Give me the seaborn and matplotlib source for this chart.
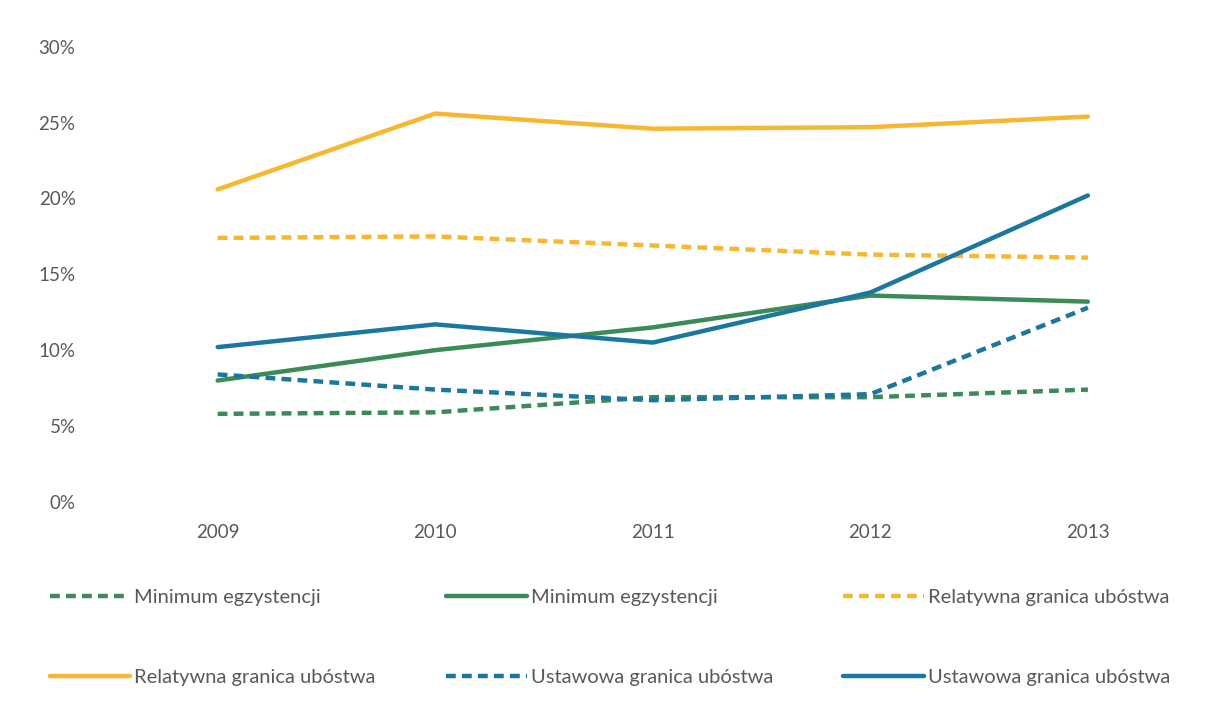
import pandas as pd
import seaborn as sns
import matplotlib.pyplot as plt
from matplotlib.ticker import PercentFormatter

# values (percent)
years = ['2009', '2010', '2011', '2012', '2013']
min_egz_a = [5.8, 5.9, 6.9, 6.9, 7.4]       # dashed
min_egz_b = [8.0, 10.0, 11.5, 13.6, 13.2]   # solid
rel_gr_a = [17.4, 17.5, 16.9, 16.3, 16.1]   # dashed
rel_gr_b = [20.6, 25.6, 24.6, 24.7, 25.4]   # solid
ust_gr_a = [8.4, 7.4, 6.7, 7.1, 12.8]       # dashed
ust_gr_b = [10.2, 11.7, 10.5, 13.8, 20.2]   # solid

green = '#3b8a58'
orange = '#f7b731'
blue = '#1b77a0'
grey = '#595959'

series = [
    ('Minimum egzystencji', min_egz_a, green, True),
    ('Minimum egzystencji', min_egz_b, green, False),
    ('Relatywna granica ubóstwa', rel_gr_a, orange, True),
    ('Relatywna granica ubóstwa', rel_gr_b, orange, False),
    ('Ustawowa granica ubóstwa', ust_gr_a, blue, True),
    ('Ustawowa granica ubóstwa', ust_gr_b, blue, False),
]

sns.set_theme(style='white')
plt.rcParams['font.family'] = ['Lato', 'DejaVu Sans']

fig = plt.figure(figsize=(12.1, 7.2), dpi=100)
ax = fig.add_axes([0.090, 0.303, 0.899, 0.632])

handles = []
for name, vals, col, dashed in series:
    df = pd.DataFrame({'x': range(len(years)), 'y': vals})
    sns.lineplot(data=df, x='x', y='y', ax=ax, color=col, linewidth=3.2)
    ln = ax.lines[-1]
    if dashed:
        ln.set_dashes([2.2, 1.4])
    ln.set_label(name)
    handles.append(ln)

ax.set_xlim(-0.5, len(years) - 0.5)
ax.set_ylim(0, 30)
ax.set_yticks(range(0, 31, 5))
ax.yaxis.set_major_formatter(PercentFormatter(decimals=0))
ax.set_xticks(range(len(years)))
ax.set_xticklabels(years)
ax.set_xlabel('')
ax.set_ylabel('')
ax.tick_params(axis='both', colors=grey, labelsize=13.5, length=0)
ax.tick_params(axis='y', pad=24)
ax.tick_params(axis='x', pad=16)
sns.despine(ax=ax, left=True, bottom=True)
if ax.get_legend() is not None:
    ax.get_legend().remove()

# legend rows in the reference go left to right, matplotlib fills by column
order = [0, 3, 1, 4, 2, 5]
fig.legend([handles[i] for i in order], [handles[i].get_label() for i in order],
           loc='upper left', bbox_to_anchor=(0.026, 0.207), ncol=3, frameon=False,
           fontsize=14.5, handlelength=4.0, handletextpad=0.2, columnspacing=3.5,
           labelspacing=3.1, labelcolor=grey)

fig.savefig('out.png', dpi=100, facecolor='white')
